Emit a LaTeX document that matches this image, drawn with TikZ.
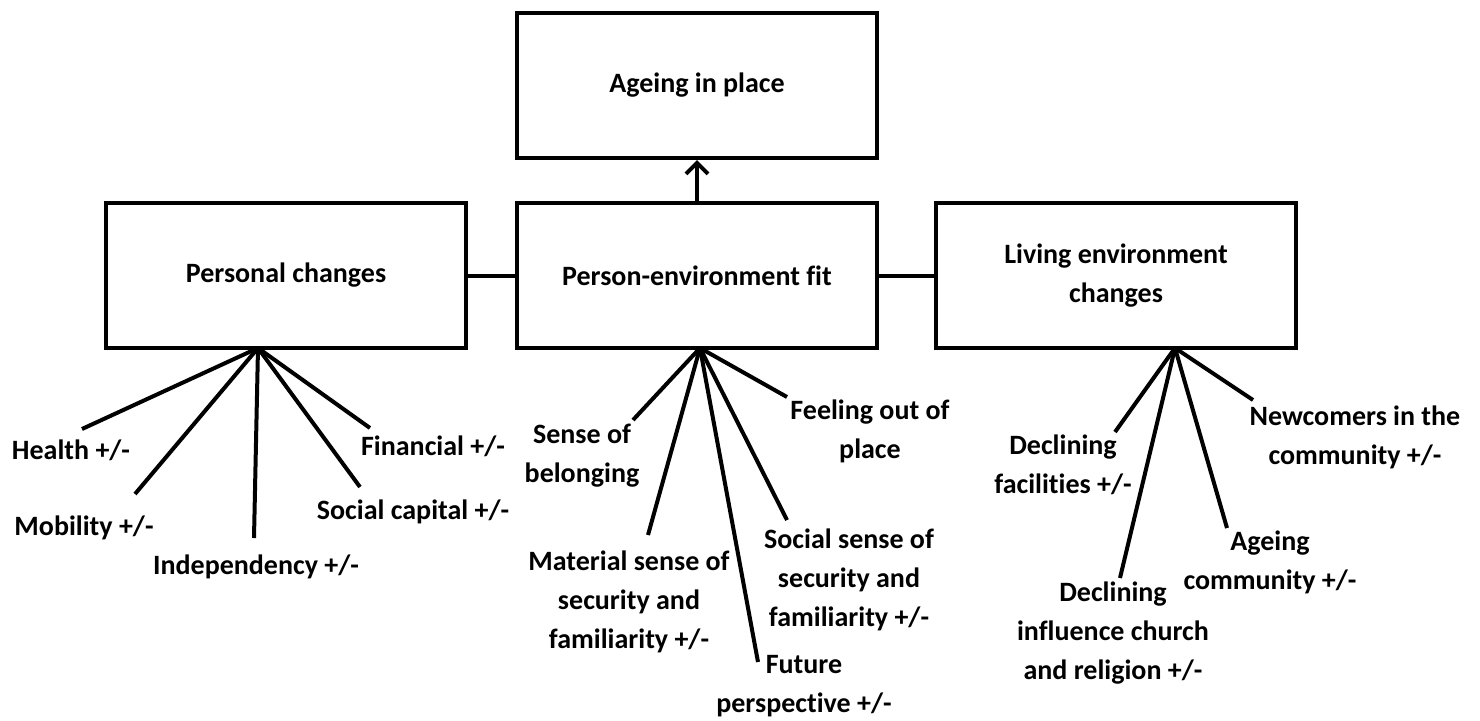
\documentclass[tikz,border=0pt]{standalone}
\usepackage{fontspec}
\setmainfont{Carlito}[Ligatures=NoCommon]
\usetikzlibrary{arrows.meta}
\begin{document}
\begin{tikzpicture}[x=0.5pt,y=-0.5pt,
  box/.style={draw,line width=2pt,minimum width=180pt,minimum height=72.5pt,align=center,
    font=\fontsize{14pt}{19.5pt}\selectfont\bfseries},
  lbl/.style={align=center,font=\fontsize{14pt}{19.5pt}\selectfont\bfseries},
  spoke/.style={line width=2pt}]
  \useasboundingbox (0,0) rectangle (1480,720);
  % main boxes
  \node[box] (aip) at (697,85.5) {Ageing in place};
  \node[box] (pc) at (286,275.5) {Personal changes};
  \node[box] (pef) at (697,275.5) {Person-environment fit};
  \node[box] (lec) at (1116,275.5) {Living environment\\changes};
  \draw[line width=2pt,-{Straight Barb[length=5.5pt,width=11pt,line width=2pt]}] (pef.north) -- (aip.south);
  \draw[line width=2pt] (pc.east) -- (pef.west);
  \draw[line width=2pt] (pef.east) -- (lec.west);
  % personal changes
  \coordinate (pcF) at (258,348);
  \node[lbl] (health) at (71,450) {Health +/-};
  \node[lbl] (mob) at (84,528) {Mobility +/-};
  \node[lbl] (indep) at (256,567) {Independency +/-};
  \node[lbl] (socap) at (413,512) {Social capital +/-};
  \node[lbl] (fin) at (433,446) {Financial +/-};
  \coordinate (healthE) at (82,429);
  \coordinate (mobE) at (135,494);
  \coordinate (indepE) at (254,538);
  \coordinate (socapE) at (360,487);
  \coordinate (finE) at (370,428);
  \draw[spoke] (pcF) -- (healthE);
  \draw[spoke] (pcF) -- (mobE);
  \draw[spoke] (pcF) -- (indepE);
  \draw[spoke] (pcF) -- (socapE);
  \draw[spoke] (pcF) -- (finE);
  % person-environment fit
  \coordinate (pefF) at (700,348);
  \node[lbl] (belong) at (582,456) {Sense of\\belonging};
  \node[lbl] (matsec) at (629,602) {Material sense of\\security and\\familiarity +/-};
  \node[lbl] (future) at (804,686) {Future\\perspective +/-};
  \node[lbl] (socsec) at (849,580) {Social sense of\\security and\\familiarity +/-};
  \node[lbl] (outplace) at (870,431) {Feeling out of\\place};
  \coordinate (belongE) at (633,420);
  \coordinate (matsecE) at (648,535);
  \coordinate (futureE) at (758,662);
  \coordinate (socsecE) at (787,520);
  \coordinate (outplaceE) at (787,397);
  \draw[spoke] (pefF) -- (belongE);
  \draw[spoke] (pefF) -- (matsecE);
  \draw[spoke] (pefF) -- (futureE);
  \draw[spoke] (pefF) -- (socsecE);
  \draw[spoke] (pefF) -- (outplaceE);
  % living environment changes
  \coordinate (lecF) at (1175,348);
  \node[lbl] (facil) at (1063,465) {Declining\\facilities +/-};
  \node[lbl] (church) at (1113,633) {Declining\\influence church\\and religion +/-};
  \node[lbl] (agecom) at (1270,562) {Ageing\\community +/-};
  \node[lbl] (newcom) at (1355,437) {Newcomers in the\\community +/-};
  \coordinate (facilE) at (1115,432);
  \coordinate (churchE) at (1120,578);
  \coordinate (agecomE) at (1227,528);
  \coordinate (newcomE) at (1253,400);
  \draw[spoke] (lecF) -- (facilE);
  \draw[spoke] (lecF) -- (churchE);
  \draw[spoke] (lecF) -- (agecomE);
  \draw[spoke] (lecF) -- (newcomE);
\end{tikzpicture}
\end{document}
